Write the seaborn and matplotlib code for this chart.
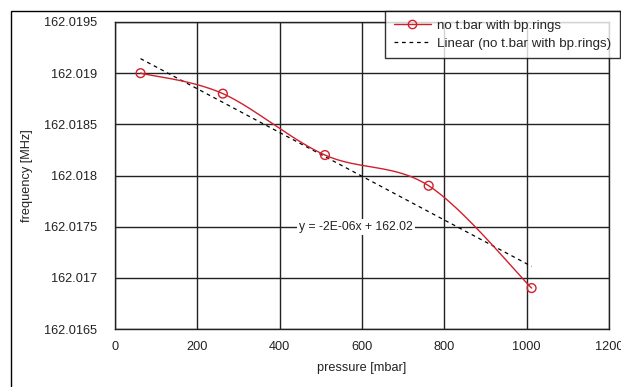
import numpy as np
import pandas as pd
import matplotlib
matplotlib.use("Agg")
import matplotlib.pyplot as plt
import seaborn as sns
from matplotlib.patches import Rectangle
from matplotlib.lines import Line2D
from matplotlib.ticker import FuncFormatter

# ---- data ----
pressure = [62, 262, 510, 762, 1012]
frequency = [162.0190, 162.0188, 162.0182, 162.0179, 162.0169]
series_name = "no t.bar with bp.rings"
trend_name = "Linear (no t.bar with bp.rings)"
x_ticks = [0, 200, 400, 600, 800, 1000, 1200]
y_ticks = [162.0165, 162.017, 162.0175, 162.018, 162.0185, 162.019, 162.0195]

df = pd.DataFrame({"pressure": pressure, "frequency": frequency})

sns.set_theme(style="white")
plt.rcParams["font.family"] = ["Liberation Sans", "DejaVu Sans"]

fig = plt.figure(figsize=(6.21, 3.87), dpi=100)
ax = fig.add_axes([115/621, 1-329/387, (609-115)/621, (329-22)/387])

red = "#d0202c"

# Excel-like smoothed line (Catmull-Rom / Bezier through the points)
px = np.array(pressure, float)
py = np.array(frequency, float) - 162.0
P = np.column_stack([px, py])
Pext = np.vstack([P[0], P, P[-1]])
curve = []
t = np.linspace(0, 1, 40)
for i in range(1, len(Pext) - 2):
    p0, p1, p2, p3 = Pext[i-1], Pext[i], Pext[i+1], Pext[i+2]
    c1 = p1 + (p2 - p0) / 6
    c2 = p2 - (p3 - p1) / 6
    seg = ((1-t)**3)[:, None]*p1 + (3*(1-t)**2*t)[:, None]*c1 + (3*(1-t)*t**2)[:, None]*c2 + (t**3)[:, None]*p2
    curve.append(seg)
curve = np.vstack(curve)
curve_df = pd.DataFrame({"pressure": curve[:, 0], "frequency": curve[:, 1] + 162.0})
sns.lineplot(data=curve_df, x="pressure", y="frequency", sort=False, color=red, lw=1.0, ax=ax, zorder=4)
sns.scatterplot(data=df, x="pressure", y="frequency", marker="o", s=40, facecolor="none",
                edgecolor=red, linewidth=1.0, ax=ax, zorder=5)

# linear trendline
sns.regplot(data=df, x="pressure", y="frequency", scatter=False, ci=None, truncate=True,
            line_kws=dict(color="black", lw=0.9, ls=(0, (3, 3))), ax=ax)
slope, intercept = np.polyfit(px, np.array(frequency), 1)
eq = f"y = {slope:.0E}x + {intercept:.2f}"
ax.text(585, 162.0175, eq, ha="center", va="center", fontsize=8.7, color="#222222",
        bbox=dict(fc="white", ec="none", pad=1.5), zorder=6)

ax.set_xlim(0, 1200)
ax.set_ylim(162.0165, 162.0195)
ax.set_xticks(x_ticks)
ax.set_yticks(y_ticks)
ax.yaxis.set_major_formatter(FuncFormatter(lambda v, p: f"{v:.4f}".rstrip("0")))
ax.grid(True, color="#222222", lw=1.0)
ax.set_axisbelow(True)
for s in ax.spines.values():
    s.set_visible(True)
    s.set_color("#222222")
    s.set_linewidth(1.0)
ax.tick_params(axis="both", direction="out", length=5, width=1, color="#222222",
               labelsize=9.2, labelcolor="#222222", pad=4)
ax.tick_params(axis="y", pad=8)
ax.set_xlabel("pressure [mbar]", fontsize=9.2, color="#222222", labelpad=6)
ax.set_ylabel("frequency [MHz]", fontsize=9.2, color="#222222", labelpad=8)

# outer chart border
fig.patches.append(Rectangle((11/621, -0.2), 1.2, 1.2 - 11/387, transform=fig.transFigure,
                             fill=False, ec="black", lw=1.0, clip_on=False))

handles = [Line2D([0], [0], color=red, lw=1.0, marker="o", mfc="none", mec=red, ms=6),
           Line2D([0], [0], color="black", lw=0.9, ls=(0, (3, 3)))]
leg = fig.legend(handles, [series_name, trend_name], loc="upper left",
                 bbox_to_anchor=(385/621, 1-11/387), bbox_transform=fig.transFigure,
                 fontsize=9.6, frameon=True, fancybox=False, edgecolor="black",
                 borderaxespad=0, handlelength=2.8, borderpad=0.65, labelspacing=0.4,
                 handletextpad=0.45)
leg.get_frame().set_linewidth(1.0)
leg.set_zorder(10)

fig.savefig("out.png", dpi=100, facecolor="white")
